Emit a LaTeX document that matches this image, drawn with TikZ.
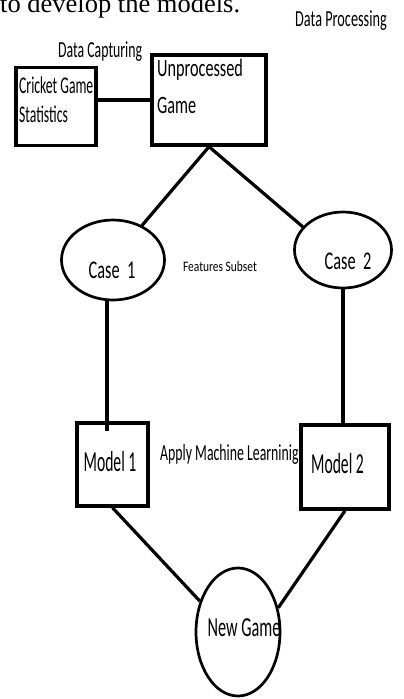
\documentclass[tikz,border=0pt]{standalone}
\usepackage{fontspec}
\usepackage{graphicx}
\setmainfont{Carlito}
\newfontfamily\serifface{Liberation Serif}
\usetikzlibrary{shapes.geometric,calc}

% narrow, tall lettering: size in pt, horizontal squeeze factor, text
\newcommand{\narrow}[3]{{\fontsize{#1}{#1}\selectfont\scalebox{#2}[1]{#3}}}

\tikzset{
  box/.style={draw, line width=3.4pt, rectangle, inner sep=0pt},
  oval/.style={draw, line width=2.7pt, ellipse, inner sep=0pt},
  link/.style={line width=3.2pt},
  txt/.style={inner sep=0pt, text=black},
}

\begin{document}
\begin{tikzpicture}[x=1pt, y=-1pt]
\useasboundingbox (0,0) rectangle (404,699);

% caption line of the surrounding page, cut by the top edge
\node[txt, anchor=base west] (caption) at (0,12)
  {\serifface\fontsize{26.5}{26.5}\selectfont to develop the models.};

\node[txt, anchor=base west] (proc) at (295,26) {\narrow{23}{0.62}{Data Processing}};
\node[txt, anchor=base west] (capt) at (58,57) {\narrow{23}{0.6}{Data Capturing}};

% input boxes
\node[box, minimum width=80pt, minimum height=78pt] (cricket) at (56,106.5) {};
\node[box, minimum width=114pt, minimum height=90pt] (unproc) at (209,100) {};
\node[txt, anchor=base west] (crickettxt) at (19,93) {\narrow{24}{0.57}{Cricket Game}};
\node[txt, anchor=base west] (stattxt) at (19,122) {\narrow{24}{0.57}{Statistics}};
\node[txt, anchor=base west] (unproctxt) at (157,76) {\narrow{25}{0.65}{Unprocessed}};
\node[txt, anchor=base west] (gametxt) at (157,113) {\narrow{25}{0.65}{Game}};

\draw[link] (cricket.east |- 0,100) -- (unproc.west |- 0,100);

% feature subsets
\node[oval, minimum width=103pt, minimum height=80pt] (case1) at (113,260) {};
\node[oval, minimum width=97pt, minimum height=76pt] (case2) at (343,250) {};
\node[txt] (case1txt) at (112,270) {\narrow{25.5}{0.64}{Case~~1}};
\node[txt] (case2txt) at (348,261) {\narrow{25.5}{0.64}{Case~~2}};
\node[txt] (feat) at (220,267) {\narrow{14.5}{0.79}{Features Subset}};

\draw[link] (unproc.south) -- (case1.50);
\draw[link] (unproc.south) -- (case2.150);

% models
\node[box, minimum width=71pt, minimum height=83pt] (model1) at (112.5,464.5) {};
\node[box, minimum width=88pt, minimum height=84pt] (model2) at (345,467) {};
\node[txt] (model1txt) at (110,462) {\narrow{29}{0.54}{Model 1}};
\node[txt] (model2txt) at (337.5,464) {\narrow{29}{0.54}{Model 2}};
\node[txt, anchor=base west] (ml) at (160,460) {\narrow{23}{0.6}{Apply Machine Learninig}};

\draw[link] (case1.south -| 107,0) -- ($(model1.north -| 107,0)+(0,10)$);
\draw[link] (case2.south -| 343,0) -- ($(model2.north -| 343,0)+(0,4)$);

% prediction target
\node[oval, minimum width=84pt, minimum height=128pt] (newgame) at (238,632) {};
\node[txt] (newgametxt) at (244,628) {\narrow{27.5}{0.59}{New Game}};

\draw[link] (model1.south) -- (newgame.141);
\draw[link] (model2.south) -- (newgame.31);
\end{tikzpicture}
\end{document}
